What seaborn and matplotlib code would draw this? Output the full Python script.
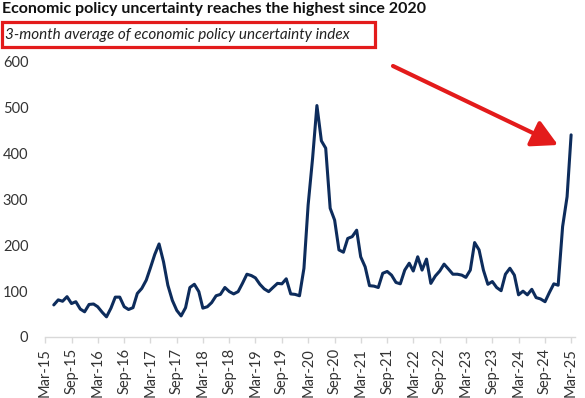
import pandas as pd
import matplotlib.pyplot as plt
import matplotlib.dates as mdates
from matplotlib.patches import Rectangle
import seaborn as sns

sns.set_theme(style='white')
plt.rcParams['font.family'] = ['Lato', 'DejaVu Sans']

# monthly 3-month average EPU index, May-15 .. Mar-25
start_month = '2015-05-01'
epu = [70, 81, 78, 88, 73, 77, 61, 55, 71, 72, 66, 54, 44, 63, 87, 87,
       66, 60, 64, 95, 106, 124, 150, 180, 203, 164, 113, 80, 58, 46, 64,
       108, 115, 99, 63, 66, 75, 90, 93, 108, 99, 94, 99, 117, 137, 134,
       129, 115, 105, 99, 108, 117, 116, 127, 94, 93, 90, 150, 288, 390,
       505, 428, 412, 281, 255, 190, 185, 215, 219, 233, 175, 153, 112,
       111, 108, 139, 143, 135, 119, 116, 146, 161, 144, 175, 146, 170,
       117, 133, 144, 159, 148, 137, 137, 135, 130, 146, 206, 190, 146,
       115, 121, 108, 101, 137, 150, 135, 92, 100, 92, 104, 86, 83, 77,
       97, 116, 113, 241, 306, 441]
yticks = [0, 100, 200, 300, 400, 500, 600]

df = pd.DataFrame({'date': pd.date_range(start_month, periods=len(epu), freq='MS'),
                   'epu': epu})

W, H = 585, 398
fig = plt.figure(figsize=(W / 100, H / 100), dpi=100)
ax = fig.add_axes([45 / W, (H - 337) / H, 530 / W, 275 / H])

sns.lineplot(data=df, x='date', y='epu', color='#0d2c5c', linewidth=2.2, ax=ax)

ax.set_xlim(pd.Timestamp('2015-03-01'), pd.Timestamp('2025-03-28'))
ax.set_ylim(0, 600)
ax.set_yticks(yticks)
ax.xaxis.set_major_locator(mdates.MonthLocator(bymonth=[3, 9]))
ax.xaxis.set_major_formatter(mdates.DateFormatter('%b-%y'))
ax.set_xlabel('')
ax.set_ylabel('')
sns.despine(ax=ax, left=True)
ax.spines['bottom'].set_color('#d9d9d9')
ax.spines['bottom'].set_linewidth(1)
ax.tick_params(axis='y', length=0, pad=12, labelsize=10.5, labelcolor='#333333')
ax.tick_params(axis='x', bottom=True, length=4, width=1, color='#d9d9d9', pad=4,
               labelsize=10.5, labelcolor='#333333', labelrotation=90)
for lab in ax.get_yticklabels():
    lab.set_horizontalalignment('right')

fig.text(2 / W, 1 - 2 / H, 'Economic policy uncertainty reaches the highest since 2020',
         fontsize=11.5, fontweight='bold', va='top', ha='left', color='#111111')
fig.text(5 / W, 1 - 34.5 / H, '3-month average of economic policy uncertainty index',
         fontsize=11, fontstyle='italic', va='center', ha='left', color='#222222')
fig.patches.append(Rectangle((2 / W, 1 - 47 / H), 373 / W, 25 / H,
                             transform=fig.transFigure, fill=False,
                             edgecolor='#e31b1b', linewidth=2.3))

ax.annotate('', xy=(558, H - 145), xycoords='figure pixels',
            xytext=(393, H - 66), textcoords='figure pixels',
            arrowprops=dict(arrowstyle='-|>,head_length=1.3,head_width=0.7',
                            color='#e31b1b', lw=3, shrinkA=0, shrinkB=0))

fig.savefig('out.png', dpi=100)
